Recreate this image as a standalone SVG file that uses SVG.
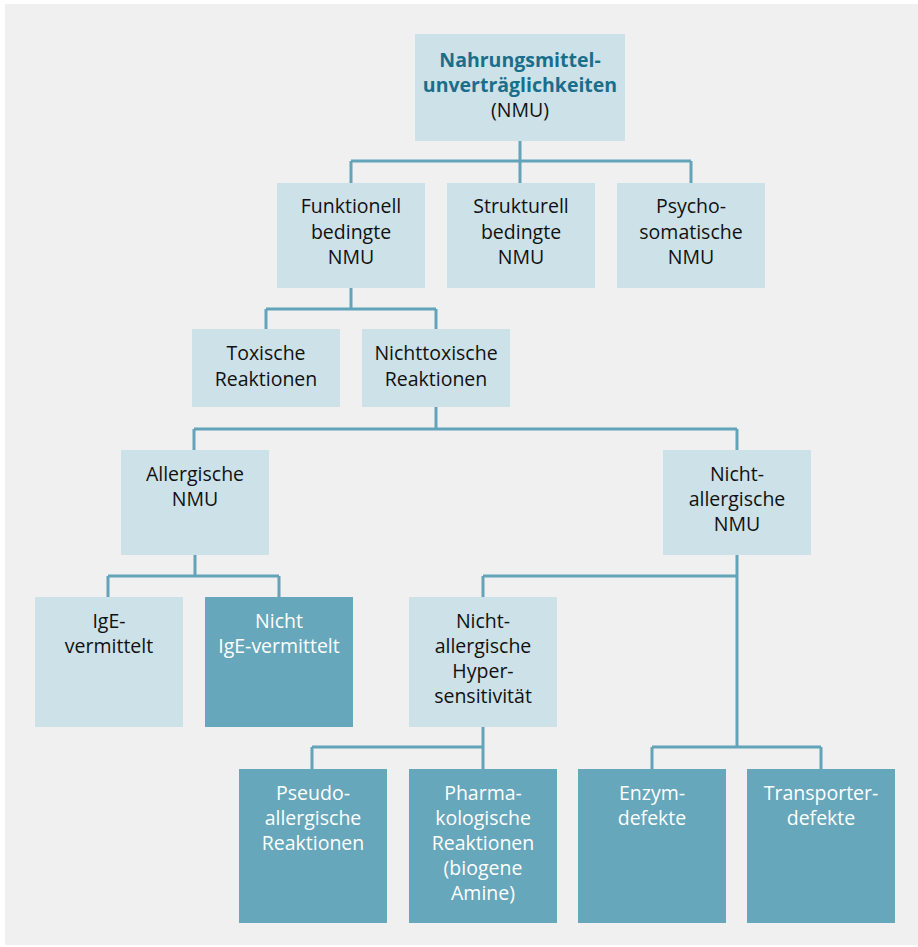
<svg xmlns="http://www.w3.org/2000/svg" width="918" height="947" viewBox="0 0 918 947">
<style>
.bg{fill:#f0f0f0}
.lt{fill:#cde1e8}
.dk{fill:#66a7bb}
.c{fill:none;stroke:#62a4b9;stroke-width:3}
text{font-family:"Open Sans","Liberation Sans",sans-serif;font-size:19.5px;text-anchor:middle;fill:#111}
.w{fill:#ffffff}
.t{font-weight:bold;fill:#1a6e8b}
</style>
<rect class="bg" x="5" y="4" width="913" height="941"/>
<g id="connectors">
<path class="c" d="M520,141 V161 M351,161 H691 M351,161 V183 M520,161 V183 M691,161 V183"/>
<path class="c" d="M351,288 V309 M266,309 H436 M266,309 V329 M436,309 V329"/>
<path class="c" d="M436,407 V429 M194,429 H737 M194,429 V450 M737,429 V450"/>
<path class="c" d="M195,555 V576 M108,576 H279 M108,576 V597 M279,576 V597"/>
<path class="c" d="M737,555 V747 M483,576 H737 M483,576 V597 M652,747 H821 M652,747 V769 M821,747 V769"/>
<path class="c" d="M483,727 V747 M312,747 H483 M312,747 V769 M483,747 V769"/>
</g>
<g id="root"><rect class="lt" x="415" y="34" width="210" height="107"/>
<text class="t" x="520" y="67">Nahrungsmittel-</text><text class="t" x="520" y="92">unverträglichkeiten</text><text x="520" y="117">(NMU)</text></g>
<g id="funktionell"><rect class="lt" x="277" y="183" width="148" height="105"/>
<text x="351" y="213">Funktionell</text><text x="351" y="238.5">bedingte</text><text x="351" y="264">NMU</text></g>
<g id="strukturell"><rect class="lt" x="447" y="183" width="148" height="105"/>
<text x="521" y="213">Strukturell</text><text x="521" y="238.5">bedingte</text><text x="521" y="264">NMU</text></g>
<g id="psycho"><rect class="lt" x="617" y="183" width="148" height="105"/>
<text x="691" y="213">Psycho-</text><text x="691" y="238.5">somatische</text><text x="691" y="264">NMU</text></g>
<g id="toxisch"><rect class="lt" x="192" y="329" width="148" height="78"/>
<text x="266" y="360">Toxische</text><text x="266" y="385.5">Reaktionen</text></g>
<g id="nichttoxisch"><rect class="lt" x="362" y="329" width="148" height="78"/>
<text x="436" y="360">Nichttoxische</text><text x="436" y="385.5">Reaktionen</text></g>
<g id="allergisch"><rect class="lt" x="121" y="450" width="148" height="105"/>
<text x="195" y="481">Allergische</text><text x="195" y="506">NMU</text></g>
<g id="nichtallergisch"><rect class="lt" x="663" y="450" width="148" height="105"/>
<text x="737" y="481">Nicht-</text><text x="737" y="506">allergische</text><text x="737" y="531">NMU</text></g>
<g id="ige"><rect class="lt" x="35" y="597" width="148" height="130"/>
<text x="109" y="628">IgE-</text><text x="109" y="653">vermittelt</text></g>
<g id="nichtige"><rect class="dk" x="205" y="597" width="148" height="130"/>
<text class="w" x="279" y="628">Nicht</text><text class="w" x="279" y="653">IgE-vermittelt</text></g>
<g id="hyper"><rect class="lt" x="409" y="597" width="148" height="130"/>
<text x="483" y="628">Nicht-</text><text x="483" y="653">allergische</text><text x="483" y="678">Hyper-</text><text x="483" y="703">sensitivität</text></g>
<g id="pseudo"><rect class="dk" x="239" y="769" width="148" height="154"/>
<text class="w" x="313" y="800">Pseudo-</text><text class="w" x="313" y="825">allergische</text><text class="w" x="313" y="850">Reaktionen</text></g>
<g id="pharma"><rect class="dk" x="409" y="769" width="148" height="154"/>
<text class="w" x="483" y="800">Pharma-</text><text class="w" x="483" y="825">kologische</text><text class="w" x="483" y="850">Reaktionen</text><text class="w" x="483" y="875">(biogene</text><text class="w" x="483" y="900">Amine)</text></g>
<g id="enzym"><rect class="dk" x="578" y="769" width="148" height="154"/>
<text class="w" x="652" y="800">Enzym-</text><text class="w" x="652" y="825">defekte</text></g>
<g id="transporter"><rect class="dk" x="747" y="769" width="148" height="154"/>
<text class="w" x="821" y="800">Transporter-</text><text class="w" x="821" y="825">defekte</text></g>
</svg>
